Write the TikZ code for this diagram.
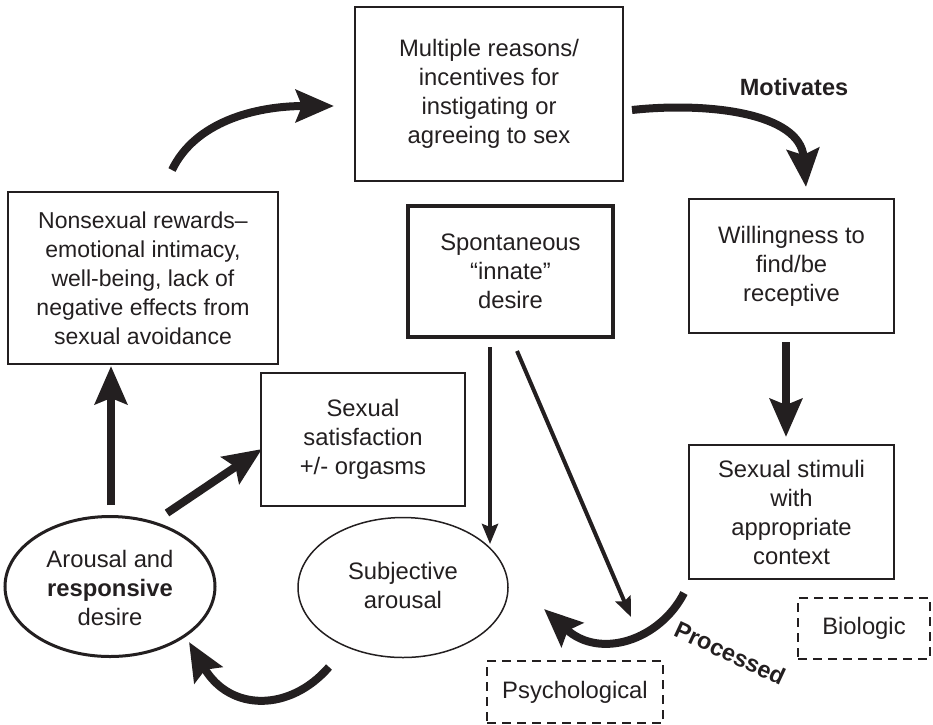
\documentclass[tikz,border=0pt]{standalone}
\usepackage{fontspec}
\setmainfont{Liberation Sans}
\usetikzlibrary{arrows.meta}
\definecolor{ink}{RGB}{35,31,32}
\begin{document}
\begin{tikzpicture}[x=1pt,y=-1pt,
  every node/.style={font=\fontsize{23.8}{29}\selectfont, text=ink, align=center, inner sep=0pt},
  box/.style={draw=ink, line width=2pt, rectangle},
  dbox/.style={draw=ink, line width=2pt, dashed, dash pattern=on 9pt off 6pt, rectangle},
  bigarrow/.style={draw=ink, line width=8pt, -{Stealth[length=38pt, width=32pt, inset=6pt]}},
  thinarrow/.style={draw=ink, line width=4pt, -{Stealth[length=20pt, width=16pt, inset=3pt]}},
  lbl/.style={font=\fontsize{23.5}{28}\selectfont\bfseries}
]
\useasboundingbox (0,0) rectangle (933,724);

\node[box, minimum width=268pt, minimum height=174pt] (top) at (489,94)
  {Multiple reasons/\\incentives for\\instigating or\\agreeing to sex};
\node[box, minimum width=270pt, minimum height=172pt, font=\fontsize{23}{29}\selectfont] (nons) at (143,278)
  {Nonsexual rewards--\\emotional intimacy,\\well-being, lack of\\negative effects from\\sexual avoidance};
\node[box, line width=4pt, minimum width=205pt, minimum height=131pt] (spont) at (510.5,271.5)
  {Spontaneous\\``innate''\\desire};
\node[box, minimum width=205pt, minimum height=134pt] (will) at (791.5,266)
  {Willingness to\\find/be\\receptive};
\node[box, minimum width=204pt, minimum height=133pt] (sat) at (363,439.5)
  {Sexual\\satisfaction\\+/- orgasms};
\node[box, minimum width=205pt, minimum height=134pt] (stim) at (791.5,512)
  {Sexual stimuli\\with\\appropriate\\context};
\draw[ink, line width=3pt] (110,586.5) ellipse [x radius=105pt, y radius=70pt];
\node (arous) at (110,588) {Arousal and\\\textbf{responsive}\\desire};
\draw[ink, line width=1.5pt] (403,587.5) ellipse [x radius=105pt, y radius=70pt];
\node (subj) at (403,585) {Subjective\\arousal};
\node[dbox, minimum width=176pt, minimum height=62pt] (psych) at (575,692) {Psychological};
\node[dbox, minimum width=132pt, minimum height=61pt] (bio) at (864,628.5) {Biologic};

\node[lbl] (mot) at (794,87) {Motivates};
\node[lbl, rotate=-25] (proc) at (730,653) {Processed};

% connectors
\coordinate (a1s) at (172,170); \coordinate (a1e) at (334,106);
\draw[bigarrow] (a1s) .. controls (195,122) and (255,106) .. (a1e);

\coordinate (a2s) at (632,110); \coordinate (a2e) at (806,187);
\draw[bigarrow] (a2s) .. controls (705,102) and (800,112) .. (a2e);

\coordinate (a3s) at (786,342); \coordinate (a3e) at (786,437);
\draw[bigarrow] (a3s) -- (a3e);

\coordinate (a4s) at (490,347); \coordinate (a4e) at (490,544);
\draw[thinarrow] (a4s) -- (a4e);

\coordinate (a5s) at (517,351); \coordinate (a5e) at (631,617);
\draw[thinarrow] (a5s) -- (a5e);

\coordinate (a6s) at (684,593); \coordinate (a6e) at (544,609);
\draw[bigarrow] (a6s) .. controls (660,640) and (600,660) .. (a6e);

\coordinate (a7s) at (329,667); \coordinate (a7e) at (189,642);
\draw[bigarrow] (a7s) .. controls (290,712) and (230,712) .. (a7e);

\coordinate (a8s) at (111,505); \coordinate (a8e) at (111,366);
\draw[bigarrow] (a8s) -- (a8e);

\coordinate (a9s) at (167,513); \coordinate (a9e) at (262,449);
\draw[bigarrow] (a9s) -- (a9e);
\end{tikzpicture}
\end{document}
